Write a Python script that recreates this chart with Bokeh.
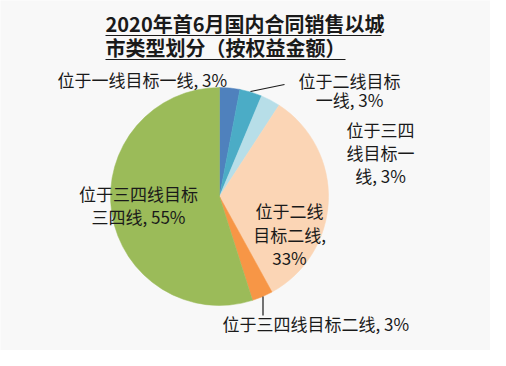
import math
from bokeh.plotting import figure
from bokeh.models import Range1d, ColumnDataSource
from bokeh.core.properties import value
from bokeh.embed import file_html
from bokeh.resources import INLINE

# ---- data ----
categories = ["位于一线目标一线", "位于二线目标一线", "位于三四线目标一线",
              "位于二线目标二线", "位于三四线目标二线", "位于三四线目标三四线"]
shares = [3.0, 3.3, 2.9, 32.8, 3.1, 54.9]          # slice sizes
label_pct = [3, 3, 3, 33, 3, 55]                    # printed percentages
colors = ["#4f81bd", "#4bacc6", "#b7dee8", "#fbd5b5", "#f79646", "#9bbb59"]
title_lines = ["2020年首6月国内合同销售以城", "市类型划分（按权益金额）"]

# ---- layout (page pixel coords) ----
W, H = 490, 350
def dx(px): return px - 8
def dy(py): return 358 - py

cx, cy, R = dx(227), dy(204), 109

FONT = "Noto Sans CJK SC"

p = figure(width=W, height=H, output_backend="svg", toolbar_location=None,
           x_range=Range1d(0, W), y_range=Range1d(0, H), min_border=0)
p.axis.visible = False
p.grid.visible = False
p.outline_line_color = None
p.background_fill_color = "#f8f8f8"
p.border_fill_color = "#f8f8f8"

# pie wedges, clockwise from 12 o'clock
total = sum(shares)
starts, ends = [], []
acc = 0.0
for s in shares:
    a0 = math.pi / 2 - 2 * math.pi * acc / total
    acc += s
    a1 = math.pi / 2 - 2 * math.pi * acc / total
    starts.append(a0)
    ends.append(a1)
src = ColumnDataSource(dict(start=starts, end=ends, color=colors,
                            x=[cx] * len(shares), y=[cy] * len(shares)))
p.wedge(x="x", y="y", radius=R, start_angle="start", end_angle="end",
        direction="clock", fill_color="color", line_color="color",
        line_width=0.5, source=src)

# labels: line breaks, anchor, alignment, line step
label_breaks = [[], [6], [4, 8], [4, 9], [], [7]]
label_anchor = [(65, 87, "left"), (357, 88, "center"), (388, 137, "center"),
                (297, 218, "center"), (230, 331, "left"), (146, 201, "center")]
label_step = [0, 19, 23, 23.5, 0, 23]

lx, ly, lt, la = [], [], [], []
for cat, pct, br, (ax, ay, al), st in zip(categories, label_pct, label_breaks,
                                          label_anchor, label_step):
    full = f"{cat}, {pct}%"
    cuts = [0] + br + [len(full)]
    for i in range(len(cuts) - 1):
        seg = full[cuts[i]:cuts[i + 1]].strip()
        lx.append(dx(ax))
        ly.append(dy(ay + i * st))
        lt.append(seg)
        la.append(al)
lsrc = ColumnDataSource(dict(x=lx, y=ly, text=lt, align=la))
p.text(x="x", y="y", text="text", source=lsrc, text_align="align",
       text_baseline="middle", text_font=value(FONT), text_font_size="17px",
       text_color="#1a1a1a")

# leader lines
p.segment(x0=[dx(258), dx(270.5)], y0=[dy(99), dy(304)],
          x1=[dx(292), dx(270.5)], y1=[dy(92), dy(323)],
          line_color="#1a1a1a", line_width=1.2)

# title with underline
tsize = 20
p.text(x=[dx(113)] * 2, y=[dy(31), dy(55)], text=title_lines,
       text_align="left", text_baseline="middle", text_font=value(FONT),
       text_font_size=f"{tsize}px", text_font_style="bold", text_color="#1a1a1a")

def est_width(s, fs):
    w = 0
    for ch in s:
        w += fs * (0.56 if ord(ch) < 128 else 1.0)
    return w

ux0 = [dx(113)] * 2
ux1 = [dx(113) + est_width(t, tsize) for t in title_lines]
p.segment(x0=ux0, y0=[dy(43), dy(67)], x1=ux1, y1=[dy(43), dy(67)],
          line_color="#1a1a1a", line_width=1.2)

open("out.html", "w").write(file_html(p, INLINE))
